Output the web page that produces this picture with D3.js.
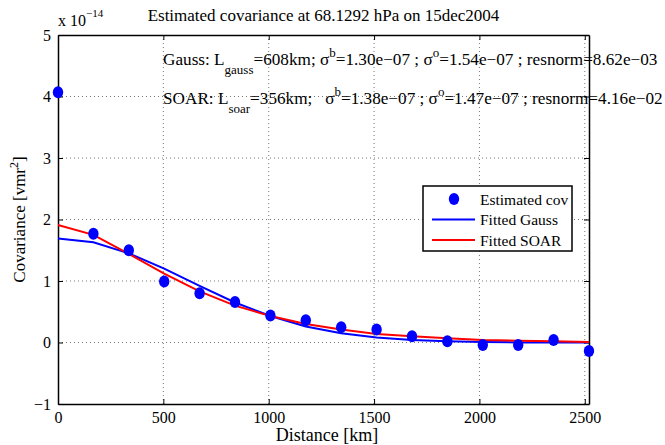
<!DOCTYPE html>
<html>
<head>
<meta charset="utf-8">
<script src="https://cdn.jsdelivr.net/npm/d3@7"></script>
<style>
  body { margin: 0; background: #fff; }
  svg text { font-family: "Liberation Serif", "DejaVu Serif", serif; fill: #000; }
</style>
</head>
<body>
<script>
// distances in km, covariances in units of 1e-14 vmr^2
var distance = [0, 168, 336, 504, 672, 840, 1008, 1176, 1344, 1512, 1680, 1848, 2016, 2184, 2352, 2520];
var estimated = [4.07, 1.77, 1.50, 0.99, 0.80, 0.66, 0.44, 0.36, 0.25, 0.21, 0.10, 0.02, -0.04, -0.04, 0.04, -0.14];
var fitGauss = [1.69, 1.63, 1.45, 1.20, 0.92, 0.65, 0.43, 0.26, 0.15, 0.08, 0.04, 0.02, 0.01, 0.00, 0.00, 0.00];
var fitSoar = [1.91, 1.75, 1.44, 1.12, 0.83, 0.60, 0.43, 0.30, 0.21, 0.14, 0.10, 0.07, 0.04, 0.03, 0.02, 0.01];
var xTicks = [0, 500, 1000, 1500, 2000, 2500];
var yTicks = [-1, 0, 1, 2, 3, 4, 5];
var legendItems = ["Estimated cov", "Fitted Gauss", "Fitted SOAR"];

var width = 665,
    height = 445;

var plotLeft = 58, plotRight = 589, plotTop = 35, plotBottom = 404;
var serif = "'Liberation Serif', 'DejaVu Serif', serif";

var svg = d3.select("body").append("svg")
    .attr("width", width)
    .attr("height", height)
    .attr("font-family", serif);

var x = d3.scaleLinear().domain([0, 2520]).range([plotLeft, plotRight]);
var y = d3.scaleLinear().domain([-1, 5]).range([plotBottom, plotTop]);

// grid
svg.append("g").selectAll("line")
    .data(xTicks.slice(1))
  .enter().append("line")
    .attr("x1", function(d) { return x(d); })
    .attr("x2", function(d) { return x(d); })
    .attr("y1", plotTop).attr("y2", plotBottom)
    .attr("stroke", "#555").attr("stroke-width", 0.8)
    .attr("stroke-dasharray", "1,3");

svg.append("g").selectAll("line")
    .data(yTicks.slice(1, -1))
  .enter().append("line")
    .attr("y1", function(d) { return y(d); })
    .attr("y2", function(d) { return y(d); })
    .attr("x1", plotLeft).attr("x2", plotRight)
    .attr("stroke", "#555").attr("stroke-width", 0.8)
    .attr("stroke-dasharray", "1,3");

// axes (ticks inward, box style)
var xAxis = svg.append("g")
    .attr("transform", "translate(0," + plotBottom + ")")
    .call(d3.axisBottom(x).tickValues(xTicks).tickFormat(d3.format("d")).tickSizeInner(-5).tickSizeOuter(0).tickPadding(8));
var xTop = svg.append("g")
    .attr("transform", "translate(0," + plotTop + ")")
    .call(d3.axisTop(x).tickValues(xTicks).tickSizeInner(-5).tickSizeOuter(0).tickFormat(""));
var yAxis = svg.append("g")
    .attr("transform", "translate(" + plotLeft + ",0)")
    .call(d3.axisLeft(y).tickValues(yTicks).tickFormat(d3.format("d")).tickSizeInner(-5).tickSizeOuter(0).tickPadding(7));
var yRight = svg.append("g")
    .attr("transform", "translate(" + plotRight + ",0)")
    .call(d3.axisRight(y).tickValues(yTicks).tickSizeInner(-5).tickSizeOuter(0).tickFormat(""));

[xAxis, xTop, yAxis, yRight].forEach(function(g) {
  g.attr("font-family", serif).attr("font-size", 16);
  g.select(".domain").attr("stroke", "#000").attr("stroke-width", 1.5);
  g.selectAll(".tick line").attr("stroke", "#000");
  g.selectAll("text").attr("fill", "#000");
});
yAxis.selectAll("text").text(function(d) { return d < 0 ? "\u2212" + (-d) : d; });

// fitted lines
var line = d3.line()
    .x(function(d, i) { return x(distance[i]); })
    .y(function(d) { return y(d); });

svg.append("path")
    .datum(fitGauss)
    .attr("d", line)
    .attr("fill", "none")
    .attr("stroke", "#0000ff")
    .attr("stroke-width", 2);

svg.append("path")
    .datum(fitSoar)
    .attr("d", line)
    .attr("fill", "none")
    .attr("stroke", "#ff0000")
    .attr("stroke-width", 2);

// estimated points
svg.append("g").selectAll("ellipse")
    .data(estimated)
  .enter().append("ellipse")
    .attr("cx", function(d, i) { return x(distance[i]); })
    .attr("cy", function(d) { return y(d); })
    .attr("rx", 5.2)
    .attr("ry", 6)
    .attr("fill", "#0000ff");

// titles
svg.append("text")
    .attr("x", 323.5).attr("y", 21)
    .attr("text-anchor", "middle")
    .style("font-size", "17px")
    .text("Estimated covariance at 68.1292 hPa on 15dec2004");

var expo = svg.append("text")
    .attr("x", 58).attr("y", 26)
    .style("font-size", "16px");
expo.append("tspan").text("x 10");
expo.append("tspan").attr("dy", -9).style("font-size", "11px").text("\u221214");

var ylab = svg.append("text")
    .attr("transform", "translate(25," + ((plotTop + plotBottom) / 2) + ") rotate(-90)")
    .attr("text-anchor", "middle")
    .style("font-size", "17px");
ylab.append("tspan").text("Covariance [vmr");
ylab.append("tspan").attr("dy", -7).style("font-size", "12px").text("2");
ylab.append("tspan").attr("dy", 7).text("]");

svg.append("text")
    .attr("x", 327).attr("y", 441)
    .attr("text-anchor", "middle")
    .style("font-size", "18px")
    .text("Distance [km]");

// fit annotations (they run past the right edge, as in the original)
function annot(yPos, name, sub, L, sb, so, res, gap) {
  var t = svg.append("text").attr("x", 163).attr("y", yPos).style("font-size", "17.2px");
  t.append("tspan").text(name + ": L");
  t.append("tspan").attr("dy", 9).style("font-size", "13px").text(sub);
  t.append("tspan").attr("dy", -9).text("=" + L + "km;" + gap + "\u03c3");
  t.append("tspan").attr("dy", -8).style("font-size", "13px").text("b");
  t.append("tspan").attr("dy", 8).text("=" + sb + " ; \u03c3");
  t.append("tspan").attr("dy", -8).style("font-size", "13px").text("o");
  t.append("tspan").attr("dy", 8).text("=" + so + " ; resnorm=" + res);
}
annot(65, "Gauss", "gauss", "608", "1.30e\u221207", "1.54e\u221207", "8.62e\u221203", " ");
annot(104, "SOAR", "soar", "356", "1.38e\u221207", "1.47e\u221207", "4.16e\u221202", "\u00a0\u00a0\u00a0");

// legend
var legend = svg.append("g");
legend.append("rect")
    .attr("x", 423).attr("y", 186)
    .attr("width", 149).attr("height", 65)
    .attr("fill", "#fff").attr("stroke", "#000").attr("stroke-width", 1.5);

legendItems.forEach(function(name, i) {
  var yy = 199 + i * 20.5;
  if (i === 0) {
    legend.append("ellipse").attr("cx", 454).attr("cy", yy).attr("rx", 5.2).attr("ry", 6).attr("fill", "#0000ff");
  } else {
    legend.append("line").attr("x1", 432).attr("x2", 475).attr("y1", yy).attr("y2", yy)
        .attr("stroke", i === 1 ? "#0000ff" : "#ff0000").attr("stroke-width", 2);
  }
  legend.append("text").attr("x", 480).attr("y", yy + 5.5).style("font-size", "15.5px").text(name);
});
</script>
</body>
</html>
